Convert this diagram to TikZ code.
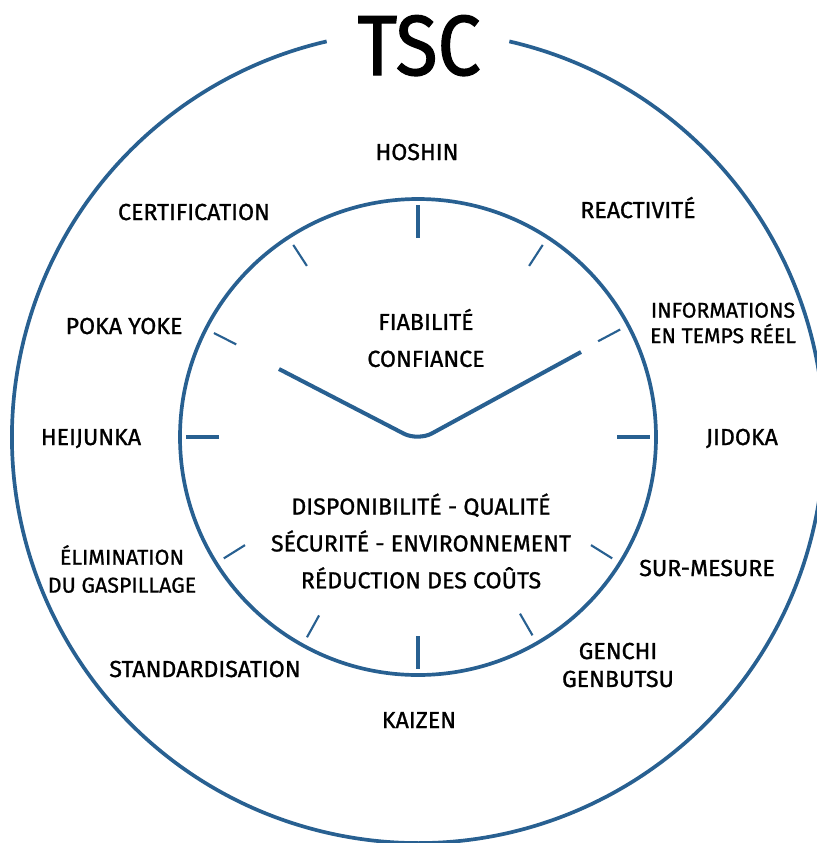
\documentclass[tikz,border=0pt]{standalone}
\usepackage{fontspec}
\setmainfont{Fira Sans}[FakeBold=1.0]
\newfontfamily\titlefont{Fira Sans}[FakeStretch=0.9, FakeBold=1.4]
\usetikzlibrary{calc}
\definecolor{clockblue}{RGB}{40,96,145}

\begin{document}
\begin{tikzpicture}[
        x=0.02cm, y=0.02cm,
        ring/.style={draw=clockblue, line width=2.1pt},
        majortick/.style={draw=clockblue, line width=1.8pt},
        minortick/.style={draw=clockblue, line width=1.2pt},
        hand/.style={draw=clockblue, line width=2.3pt, rounded corners=9pt},
        txt/.style={inner sep=0pt, align=center, font=\fontsize{13.2}{15.9}\selectfont},
        small/.style={txt, font=\fontsize{12.1}{14.5}\selectfont},
        inside/.style={txt, font=\fontsize{13.2}{21}\selectfont},
        title/.style={inner sep=0pt, font=\titlefont\fontsize{48.6}{50}\selectfont}
        ]

        \clip (0,0) rectangle (817,-843);

        % Clock face
        \coordinate (hub) at (418,-437);
        \draw[ring] (hub) circle (238);
        \draw[ring] (hub) ++(77:406) arc[start angle=77, end angle=-257, radius=406];

        % Ticks
        \foreach \a in {0,90,180,270}
            \draw[majortick] ($(hub)+(\a:199)$) -- ($(hub)+(\a:232)$);
        \foreach \a in {28,57,123,153,212,241,300,328}
            \draw[minortick] ($(hub)+(\a:204)$) -- ($(hub)+(\a:229)$);

        % Hands
        \coordinate (tipL) at (279,-369);
        \coordinate (tipR) at (581,-352);
        \coordinate (pivot) at (418,-441);
        \draw[hand] (tipL) -- (pivot) -- (tipR);

        % Title
        \node (tsc) [title, anchor=base] at (419,-75) {TSC};

        % Outer labels
        \node (hoshin) [txt, anchor=base] at (417,-160) {HOSHIN};
        \node (reactivite) [txt, anchor=base] at (638,-218) {REACTIVITÉ};
        \node (certif) [txt, anchor=base] at (194,-220) {CERTIFICATION};
        \node (info) [small] at (723,-323) {INFORMATIONS\\EN TEMPS RÉEL};
        \node (pokayoke) [txt, anchor=base] at (124,-334) {POKA YOKE};
        \node (heijunka) [txt, anchor=base] at (91,-445) {HEIJUNKA};
        \node (jidoka) [txt, anchor=base] at (742,-445) {JIDOKA};
        \node (gaspi) [small, font=\fontsize{12.2}{15.9}\selectfont] at (122,-569) {ÉLIMINATION\\DU GASPILLAGE};
        \node (surmesure) [txt, anchor=base] at (707,-576) {SUR-MESURE};
        \node (genchi) [txt] at (618,-665) {GENCHI\\GENBUTSU};
        \node (standard) [txt, anchor=base] at (205,-677) {STANDARDISATION};
        \node (kaizen) [txt, anchor=base] at (419,-728) {KAIZEN};

        % Inner labels
        \node (fiab) [inside] at (426,-338) {FIABILITÉ\\CONFIANCE};
        \node (dispo) [inside] at (421,-541) {DISPONIBILITÉ - QUALITÉ\\SÉCURITÉ - ENVIRONNEMENT\\RÉDUCTION DES COÛTS};

    \end{tikzpicture}
\end{document}
